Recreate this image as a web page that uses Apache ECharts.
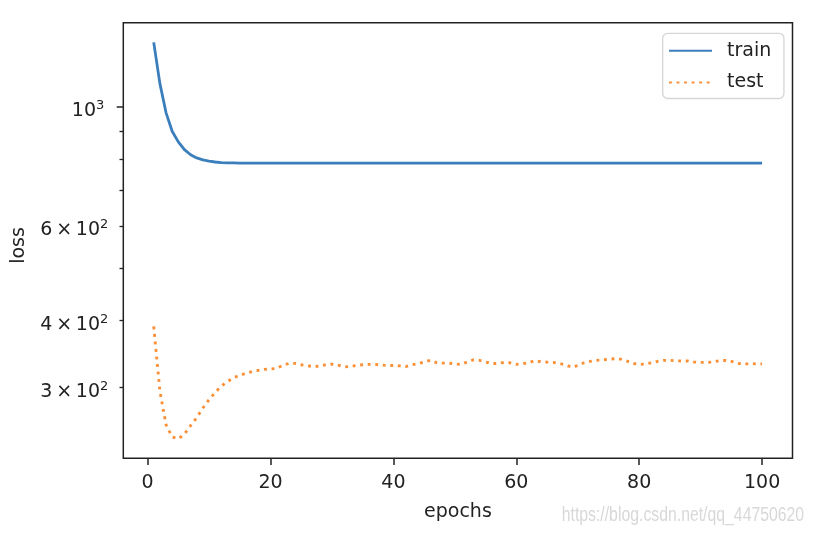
<!DOCTYPE html>
<html><head><meta charset="utf-8">
<script src="https://cdn.jsdelivr.net/npm/echarts@6/dist/echarts.min.js"></script>
<style>html,body{margin:0;padding:0;background:#fff}#c{width:814px;height:534px}</style>
</head><body><div id="c"></div>
<script>
const epochs = [1,2,3,4,5,6,7,8,9,10,11,12,13,14,15,16,17,18,19,20,
  21,22,23,24,25,26,27,28,29,30,31,32,33,34,35,36,37,38,39,40,
  41,42,43,44,45,46,47,48,49,50,51,52,53,54,55,56,57,58,59,60,
  61,62,63,64,65,66,67,68,69,70,71,72,73,74,75,76,77,78,79,80,
  81,82,83,84,85,86,87,88,89,90,91,92,93,94,95,96,97,98,99,100];
const trainLoss = [1317,1105,975,900,860,832,814,803,796,792,789,787,786,786,785.5,785,785,785,785,785,
  785,785,785,785,785,785,785,785,785,785,785,785,785,785,785,785,785,785,785,785,
  785,785,785,785,785,785,785,785,785,785,785,785,785,785,785,785,785,785,785,785,
  785,785,785,785,785,785,785,785,785,785,785,785,785,785,785,785,785,785,785,785,
  785,785,785,785,785,785,785,785,785,785,785,785,785,785,785,785,785,785,785,785];
const testLoss = [390,296,256,243,241,246,255,264,275,285,294,302,308,313,316.5,319,321.5,323,324.5,325,
  326,330,333,333,331,329.5,328.5,329,331,332,330.5,328,328.5,330,331,331.5,331.5,330.5,330,330,
  329.5,328.5,331,332.3,335,337.3,334,333.3,333.3,332,331.5,335,338,337.3,335,332.8,332.8,334.3,333.8,331.5,
  332.3,333.8,336.8,335.3,334.8,334.3,332.8,331,327.5,330,333.8,335.8,337.3,337.8,339,339.6,339,336.3,332.8,331.5,
  332,333.8,335.8,337.3,337.3,336.8,336.3,336.3,334.8,334.3,334.3,334.8,336.8,337.3,335.8,333.3,331.5,332.8,332.3,332.3];
const xTicks = [0,20,40,60,80,100];
const yMajorTicks = [1000];
const yMinorTicks = [300,400,500,600,700,800,900];
const yLabelValues = [300,400,600,1000];
const yLabelBases = ['3\u2009×\u200910','4\u2009×\u200910','6\u2009×\u200910','10'];
const yLabelExps = ['2','2','2','3'];

const FONT = 'DejaVu Sans';
const chart = echarts.init(document.getElementById('c'), null, {renderer:'canvas'});
const yMin = 221.7, yMax = 1433;
function yFmt(v){
  for (let i=0;i<yLabelValues.length;i++) {
    if (Math.abs(yLabelValues[i]-v) < 1e-6*v) {
      const supStyle = yLabelValues[i] === 1000 ? 'sw' : 's';
      return '{b|' + yLabelBases[i] + '}{' + supStyle + '|' + yLabelExps[i] + '}';
    }
  }
  return '';
}
chart.setOption({
  animation:false,
  backgroundColor:'#fff',
  grid:{left:123.3, right:21.5, top:22.7, bottom:75.7, show:true, borderColor:'#222', borderWidth:1.5, backgroundColor:'transparent'},
  legend:{
    data:['train','test'], orient:'vertical', left:662.7, top:33.3,
    itemWidth:43, itemHeight:22, itemGap:9.7,
    padding:[6.5,12.7,5.0,5.3],
    itemStyle:{opacity:0},
    backgroundColor:'rgba(255,255,255,0.8)', borderColor:'#d6d6d6', borderWidth:1.3, borderRadius:5,
    textStyle:{fontFamily:FONT, fontSize:19, lineHeight:22, color:'#222', padding:[0,0,0,10]}
  },
  xAxis:{
    type:'value', min:-3.95, max:104.95,
    axisLine:{show:false, onZero:false}, splitLine:{show:false},
    axisTick:{show:true, customValues:xTicks, length:6.6, lineStyle:{color:'#222', width:1.5}},
    axisLabel:{customValues:xTicks, fontFamily:FONT, fontSize:19, color:'#222', margin:15},
    name:'epochs', nameLocation:'middle', nameGap:44,
    nameTextStyle:{fontFamily:FONT, fontSize:19, color:'#222'}
  },
  yAxis:[{
    type:'log', logBase:10, min:yMin, max:yMax, position:'left',
    axisLine:{show:false, onZero:false}, splitLine:{show:false}, minorTick:{show:false},
    axisTick:{show:true, customValues:yMajorTicks, length:6.6, lineStyle:{color:'#222', width:1.5}},
    axisLabel:{customValues:yLabelValues, formatter:yFmt, margin:15,
      rich:{
        b:{fontFamily:FONT, fontSize:19, lineHeight:19, color:'#222', padding:[9,0,0,0]},
        s:{fontFamily:FONT, fontSize:13, lineHeight:13, color:'#222', padding:[0,0,2.6,0]},
        sw:{fontFamily:FONT, fontSize:13, lineHeight:13, color:'#222', padding:[0,4,2.6,0]}
      }},
    name:'loss', nameLocation:'middle', nameGap:95,
    nameTextStyle:{fontFamily:FONT, fontSize:19, color:'#222', padding:[0,10,0,0]}
  },{
    type:'log', logBase:10, min:yMin, max:yMax, position:'left', offset:0,
    axisLine:{show:false, onZero:false}, splitLine:{show:false}, minorTick:{show:false},
    axisTick:{show:true, customValues:yMinorTicks, length:3.8, lineStyle:{color:'#222', width:1.3}},
    axisLabel:{show:false}
  }],
  graphic:[{
    type:'text', left:561.7, top:505, scaleX:0.79,
    style:{text:'https://blog.csdn.net/qq_44750620', fontFamily:'Liberation Sans', fontSize:20, fill:'#d8d8d8'}
  }],
  series:[{
    name:'train', type:'line', yAxisIndex:0, showSymbol:false, symbol:'none',
    data: epochs.map((e,i)=>[e, trainLoss[i]]),
    lineStyle:{color:'#3a7fbc', width:2.8}, itemStyle:{color:'#3a7fbc'}
  },{
    name:'test', type:'line', yAxisIndex:0, showSymbol:false, symbol:'none',
    data: epochs.map((e,i)=>[e, testLoss[i]]),
    lineStyle:{color:'#fb8f35', width:2.85, type:[2.85,4.7], cap:'butt'}, itemStyle:{color:'#fb8f35'}
  }]
});
</script></body></html>
